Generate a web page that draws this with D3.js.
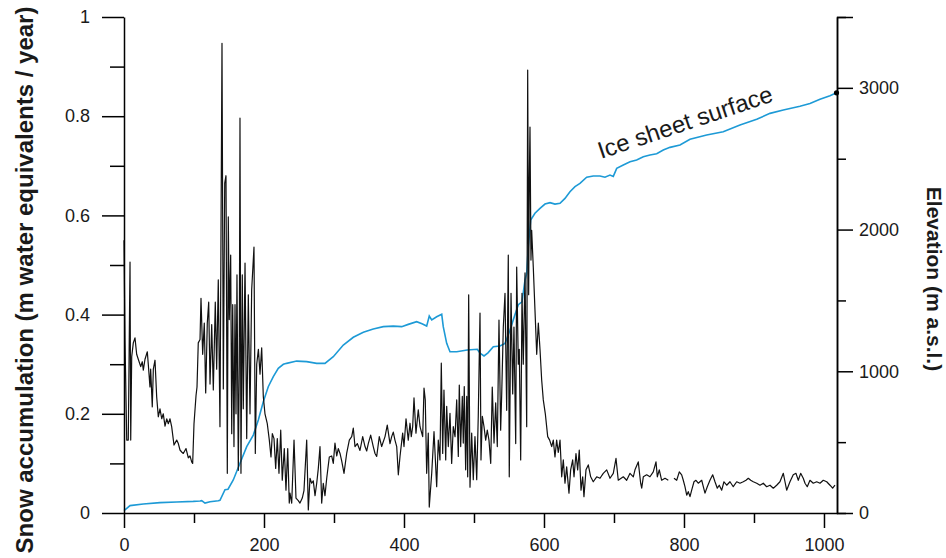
<!DOCTYPE html>
<html>
<head>
<meta charset="utf-8">
<script src="https://cdn.jsdelivr.net/npm/d3@7"></script>
<style>
  body { margin: 0; background: #fff; }
  svg { display: block; font-family: "Liberation Sans", Arial, sans-serif; }
  .axis path, .axis line { stroke: #000; stroke-width: 1.5; }
  .axis text { fill: #1a1a1a; font-size: 18px; font-family: "Liberation Sans", Arial, sans-serif; }
</style>
</head>
<body>
<div id="chart"></div>
<script>
// Snow accumulation (black line), x values then accumulation values
const snowX = [0,1.4,3.9,6.1,8.6,9.6,11,13.3,15.7,18.1,20.4,23.9,26.1,27.6,30,33.3,34.7,37.1,38.1,40.4,41.9,44.3,46.7,49,51.4,53.9,56.1,58.6,61,63.3,65.7,68.1,71.4,75.3,77.6,80,82.4,84.7,88.6,91.9,94.3,96.7,98.1,
  100,102.9,104.3,106.1,108.6,110,112.4,114.7,116.7,119,121,122.9,125.3,127.6,130.4,132.4,134.7,137.1,138.6,140,141.9,143.9,145.7,147.6,149,150.4,152.4,153.9,155.3,157.1,158.6,160,161.4,163.3,164.7,165.7,167.1,169,170.4,172.9,175.3,177.6,180,182.4,185.7,187.6,189.6,192,194.3,196.7,199,
  201.4,204.7,207.6,210,211.9,214.3,216.7,219,221.4,223.9,226.1,229,231.4,233.9,236.1,237.1,239.6,242.9,245.7,249,251.4,254.7,257.1,261,263.3,265.7,268.1,270.4,272.9,275.3,277.6,280,282.4,284.7,287.1,289.6,293.3,296.7,299,
  301.4,303.9,306.1,308.6,311,314.3,318.1,321.9,325.3,327.6,330,333.3,337.1,341,344.3,346.7,349,352.4,356.1,358.6,361,364.7,368.1,372.9,376.1,380,382.4,384.7,387.1,389.6,391.9,394.3,398.1,
  400,402.9,406.1,408.6,410.4,412.4,414.3,417.1,420.4,422.9,426.7,428.6,430.4,432.4,434.7,436.1,439.6,442.9,446.7,449,451.4,453.3,455.3,457.1,459.6,461,463.3,465.7,468.1,470.4,472.9,475.3,477.6,479,481,483.3,484.7,486.1,488.1,489.6,491,492.4,494.3,496.7,499,
  501.4,503.9,506.1,508.6,510,511.9,514.3,516.7,519,521.4,523.9,526.1,528.6,531,533.3,535.7,538.1,539.6,541.9,544.3,546.7,549,550.4,552.9,555.3,557.1,559.6,561,563.3,564.7,566.7,568.6,570.4,572.9,575.3,576.7,578.1,579,580,581.4,582.4,584.7,587.1,589.6,591.9,594.3,596.7,599,
  601.9,605.3,608.1,611,613.3,615.7,618.1,620.4,622.9,625.3,627.6,630,632.4,635.7,638.1,641,642.9,645.7,648.1,650.4,652.9,655.3,657.1,660,663.3,666.7,670.4,675.3,680,684.7,689.6,694.3,699,
  702.9,706.1,713.3,718.1,722.9,727.6,730,734.7,738.1,739.6,741.9,746.7,751.4,756.1,760,761.9,764.7,768.1,772.9,777.6,781,785.7,789.6,793.3,796.7,799,
  801.4,803.9,806.1,808.6,811,814.3,817.1,820.4,825.3,827.6,830,833.3,837.1,841,844.3,847.6,850.4,853.9,857.1,861,865.7,870.4,875.3,880,884.7,888.6,891.9,895.3,899,
  903.9,908.6,913.3,918.1,922.9,927.6,932.4,937.1,941.9,944.3,946.7,951.4,956.1,960,963.3,966.7,970.4,972.9,976.1,980,984.7,989.6,994.3,999,1003.9,1008.6,1012.4,1015.7];
const snowAcc = [0.55,0.35,0.147,0.147,0.506,0.147,0.315,0.343,0.353,0.32,0.31,0.295,0.305,0.288,0.31,0.325,0.3,0.254,0.29,0.214,0.29,0.308,0.234,0.194,0.21,0.19,0.2,0.175,0.19,0.18,0.19,0.174,0.137,0.147,0.14,0.127,0.123,0.12,0.13,0.111,0.115,0.103,0.1,
  0.18,0.237,0.254,0.343,0.35,0.433,0.32,0.383,0.242,0.383,0.425,0.26,0.38,0.248,0.425,0.29,0.47,0.174,0.57,0.947,0.25,0.665,0.68,0.08,0.597,0.39,0.52,0.16,0.42,0.134,0.42,0.2,0.48,0.086,0.3,0.796,0.08,0.48,0.21,0.504,0.15,0.44,0.2,0.45,0.536,0.12,0.3,0.33,0.28,0.333,0.235,
  0.2,0.18,0.147,0.113,0.16,0.15,0.09,0.15,0.08,0.167,0.066,0.13,0.046,0.13,0.02,0.04,0.02,0.147,0.03,0.025,0.02,0.03,0.045,0.147,0.006,0.07,0.06,0.065,0.035,0.06,0.09,0.134,0.02,0.06,0.035,0.07,0.113,0.115,0.1,
  0.141,0.115,0.13,0.12,0.105,0.08,0.12,0.147,0.154,0.171,0.134,0.14,0.126,0.154,0.134,0.125,0.14,0.157,0.134,0.12,0.114,0.154,0.134,0.154,0.177,0.14,0.154,0.163,0.147,0.134,0.077,0.114,0.161,
  0.134,0.19,0.147,0.181,0.154,0.174,0.232,0.161,0.208,0.174,0.154,0.252,0.228,0.08,0.161,0.012,0.08,0.164,0.053,0.147,0.107,0.302,0.12,0.248,0.107,0.215,0.134,0.201,0.1,0.174,0.154,0.228,0.114,0.258,0.134,0.235,0.141,0.255,0.087,0.235,0.073,0.44,0.052,0.161,0.067,
  0.154,0.067,0.195,0.403,0.107,0.195,0.174,0.147,0.167,0.147,0.1,0.254,0.141,0.222,0.134,0.389,0.167,0.24,0.375,0.443,0.207,0.52,0.073,0.443,0.24,0.375,0.14,0.496,0.3,0.33,0.107,0.443,0.3,0.484,0.174,0.893,0.44,0.665,0.778,0.51,0.57,0.496,0.41,0.32,0.383,0.33,0.268,0.228,
  0.2,0.154,0.147,0.134,0.147,0.113,0.147,0.122,0.147,0.073,0.107,0.06,0.093,0.04,0.087,0.107,0.073,0.12,0.087,0.127,0.046,0.073,0.033,0.087,0.097,0.073,0.063,0.073,0.07,0.08,0.087,0.07,0.08,
  0.11,0.066,0.073,0.066,0.08,0.073,0.087,0.103,0.06,0.05,0.073,0.077,0.073,0.083,0.103,0.073,0.087,0.066,0.07,0.066,null,0.07,0.066,0.083,0.077,0.066,
  0.053,0.036,0.043,0.033,0.046,0.063,0.066,0.06,0.066,0.053,0.04,0.053,0.066,0.077,0.063,0.05,0.056,0.046,0.063,0.056,0.063,0.053,0.063,0.06,0.063,0.066,0.07,0.066,0.063,
  0.06,0.056,0.06,0.053,0.056,0.05,0.056,0.063,0.08,0.063,0.046,0.063,0.077,0.08,0.066,0.08,0.07,0.06,0.053,0.066,0.06,0.063,0.06,0.066,0.063,0.056,0.05,0.056];

// Ice sheet surface elevation (blue line)
const surfX = [0,8.6,27.6,51.4,75.3,99,108.6,111,115.7,122.9,134.7,137.1,144.3,148.6,156.1,165.7,175.3,184.7,191.9,199,206.1,213.3,220.4,227.6,232.4,246.7,261,275.3,287.1,299,
  313.3,327.6,341.9,356.1,370.4,384.7,396.7,406.1,418.1,425.7,432.4,436.1,439.6,446.7,453.9,456.1,461,465.7,475.3,490.4,504.7,508.6,514.3,520,527.6,537.1,544.3,551.4,558.6,563.3,568.6,572.9,575.3,577.6,581,
  587.1,594.3,601.4,608.6,615.7,622.9,630,637.1,644.3,651.4,661,670.4,680,687.1,694.3,699,703.9,713.3,722.9,732.4,741.9,751.4,761,770.4,780,794.3,808.6,832.4,856.1,880,903.9,922.9,941.9,951.4,965.7,980,994.3,1008.6,1017.9];
const surfElev = [16,52,63,73,78,82,85,87,70,80,87,90,165,168,233,351,468,550,656,785,891,962,1021,1049,1056,1072,1068,1056,1056,1103,
  1185,1240,1275,1298,1315,1319,1315,1331,1350,1335,1319,1390,1362,1385,1402,1315,1197,1138,1138,1150,1155,1127,1108,1130,1173,1178,1197,1290,1400,1470,1490,1644,1691,1879,2067,
  2115,2150,2180,2190,2180,2185,2220,2267,2303,2326,2369,2378,2378,2369,2385,2375,2432,2455,2479,2491,2514,2526,2535,2561,2580,2597,2637,2667,2690,2738,2778,2820,2844,2855,2870,2890,2920,2945,2965];

// Tick values
const xTicks = [0, 200, 400, 600, 800, 1000];
const xMinor = [100, 300, 500, 700, 900];
const accTicks = [0, 0.2, 0.4, 0.6, 0.8, 1];
const accMinor = [0.1, 0.3, 0.5, 0.7, 0.9];
const elevTicks = [0, 1000, 2000, 3000];
const elevMinor = [500, 1500, 2500, 3500];

const width = 946, height = 558;
const plot = {left: 124, right: 837, top: 17, bottom: 513};

const svg = d3.select("#chart").append("svg")
  .attr("width", width)
  .attr("height", height);

const x = d3.scaleLinear().domain([0, 1018.6]).range([plot.left, plot.right]);
const yAcc = d3.scaleLinear().domain([0, 1]).range([plot.bottom, plot.top]);
const yElev = d3.scaleLinear().domain([0, 3500]).range([plot.bottom, plot.top]);

// lines
const snow = snowX.map((d, i) => [d, snowAcc[i]]);
const surf = surfX.map((d, i) => [d, surfElev[i]]);

svg.append("path")
  .datum(surf)
  .attr("fill", "none")
  .attr("stroke", "#1d9ad6")
  .attr("stroke-width", 1.6)
  .attr("d", d3.line().x(d => x(d[0])).y(d => yElev(d[1])));

svg.append("path")
  .datum(snow)
  .attr("fill", "none")
  .attr("stroke", "#111")
  .attr("stroke-width", 1.2)
  .attr("stroke-linejoin", "round")
  .attr("d", d3.line().defined(d => d[1] != null).x(d => x(d[0])).y(d => yAcc(d[1])));

// end marker of the surface curve
svg.append("circle")
  .attr("cx", x(surfX[surfX.length - 1]))
  .attr("cy", yElev(surfElev[surfElev.length - 1]))
  .attr("r", 2.6)
  .attr("fill", "#000");

// bottom axis
svg.append("g").attr("class", "axis")
  .attr("transform", "translate(0," + plot.bottom + ")")
  .call(d3.axisBottom(x).tickValues(xTicks).tickSize(15).tickSizeOuter(0).tickPadding(10).tickFormat(d3.format("d")));
svg.append("g").attr("class", "axis")
  .attr("transform", "translate(0," + plot.bottom + ")")
  .call(d3.axisBottom(x).tickValues(xMinor).tickSize(10).tickSizeOuter(0).tickFormat(""))
  .select(".domain").remove();

// left axis
svg.append("g").attr("class", "axis")
  .attr("transform", "translate(" + plot.left + ",0)")
  .call(d3.axisLeft(yAcc).tickValues(accTicks).tickSize(22).tickSizeOuter(0).tickPadding(12).tickFormat(d3.format("~g")));
svg.append("g").attr("class", "axis")
  .attr("transform", "translate(" + plot.left + ",0)")
  .call(d3.axisLeft(yAcc).tickValues(accMinor).tickSize(14).tickFormat(""))
  .select(".domain").remove();

// right axis
svg.append("g").attr("class", "axis")
  .attr("transform", "translate(" + plot.right + ",0)")
  .call(d3.axisRight(yElev).tickValues(elevTicks).tickSize(16).tickSizeOuter(0).tickPadding(6).tickFormat(d3.format("d")));
svg.append("g").attr("class", "axis")
  .attr("transform", "translate(" + plot.right + ",0)")
  .call(d3.axisRight(yElev).tickValues(elevMinor).tickSize(9).tickFormat(""))
  .selectAll(".tick line").filter(d => d === 3500).attr("x2", 16);

// axis titles
svg.append("text")
  .attr("transform", "translate(33,280) rotate(-90)")
  .attr("text-anchor", "middle")
  .attr("font-size", "24px")
  .attr("font-weight", "bold")
  .attr("fill", "#1a1a1a")
  .text("Snow accumulation (m water equivalents / year)");

svg.append("text")
  .attr("transform", "translate(927,279) rotate(90)")
  .attr("text-anchor", "middle")
  .attr("font-size", "21px")
  .attr("font-weight", "bold")
  .attr("fill", "#1a1a1a")
  .text("Elevation (m a.s.l.)");

// annotation
svg.append("text")
  .attr("transform", "translate(601,159) rotate(-18.5)")
  .attr("font-size", "24px")
  .attr("fill", "#1a1a1a")
  .text("Ice sheet surface");
</script>
</body>
</html>
